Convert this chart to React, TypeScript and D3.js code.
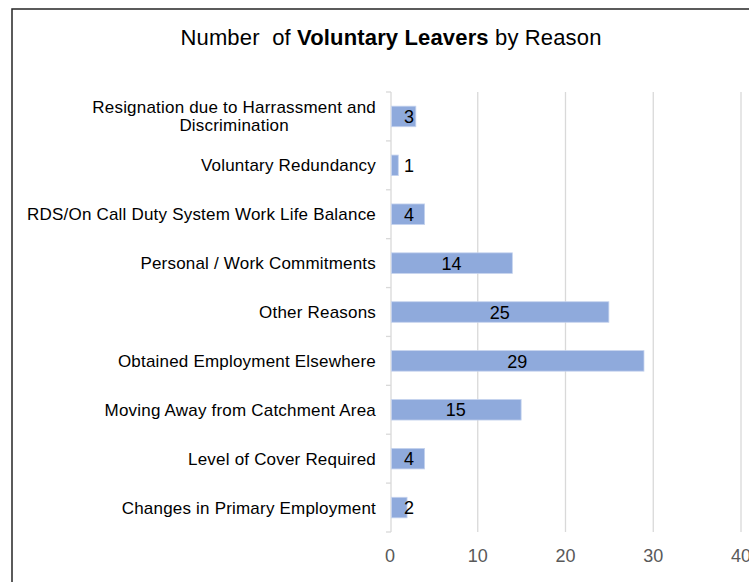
import React, { useEffect, useRef } from "react";
import * as d3 from "d3";

const categories: string[][] = [
  ["Resignation due to Harrassment and", "Discrimination"],
  ["Voluntary Redundancy"],
  ["RDS/On Call Duty System Work Life Balance"],
  ["Personal / Work Commitments"],
  ["Other Reasons"],
  ["Obtained Employment Elsewhere"],
  ["Moving Away from Catchment Area"],
  ["Level of Cover Required"],
  ["Changes in Primary Employment"],
];
const values: number[] = [3, 1, 4, 14, 25, 29, 15, 4, 2];
const xTicks: number[] = [0, 10, 20, 30, 40];

const W = 749;
const H = 582;
const FONT = "'Liberation Sans', Arial, sans-serif";

export default function App() {
  const ref = useRef<SVGSVGElement | null>(null);

  useEffect(() => {
    const svg = d3.select(ref.current);
    svg.selectAll("*").remove();

    const left = 390;
    const right = 741;
    const top = 92;
    const bottom = 532;

    const x = d3.scaleLinear().domain([0, 40]).range([left, right]);
    const idx = categories.map((_, i) => String(i));
    const y = d3.scaleBand<string>().domain(idx).range([top, bottom]).paddingInner(0.58).paddingOuter(0.29);
    const band = d3.scaleBand<string>().domain(idx).range([top, bottom]);

    // chart border
    svg.append("rect")
      .attr("x", 12).attr("y", 9)
      .attr("width", W + 20).attr("height", H + 20)
      .attr("fill", "white").attr("stroke", "#262626").attr("stroke-width", 1.5);

    // title
    const title = svg.append("text")
      .attr("x", 391).attr("y", 45)
      .attr("text-anchor", "middle")
      .attr("font-family", FONT).attr("font-size", 22)
      .attr("letter-spacing", 0.15)
      .attr("fill", "#000");
    title.append("tspan").text("Number  of ").style("white-space", "pre");
    title.append("tspan").text("Voluntary Leavers").attr("font-weight", "bold").style("white-space", "pre");
    title.append("tspan").text(" by Reason").style("white-space", "pre");

    // gridlines
    svg.append("g").selectAll("line")
      .data(xTicks.filter((t) => t > 0))
      .join("line")
      .attr("x1", (d) => x(d)).attr("x2", (d) => x(d))
      .attr("y1", top).attr("y2", bottom)
      .attr("stroke", "#d9d9d9").attr("stroke-width", 1.3);

    // x tick labels
    svg.append("g").selectAll("text")
      .data(xTicks)
      .join("text")
      .attr("x", (d) => x(d)).attr("y", 562)
      .attr("text-anchor", "middle")
      .attr("font-family", FONT).attr("font-size", 18)
      .attr("fill", "#595959")
      .text((d) => String(d));

    // y axis line and ticks
    svg.append("line")
      .attr("x1", x(0) + 1).attr("x2", x(0) + 1)
      .attr("y1", top).attr("y2", bottom)
      .attr("stroke", "#d9d9d9").attr("stroke-width", 1.3);
    const boundaries = idx.map((d) => band(d) as number).concat([bottom]);
    svg.append("g").selectAll("line")
      .data(boundaries)
      .join("line")
      .attr("x1", x(0) - 4).attr("x2", x(0) + 1)
      .attr("y1", (d) => d).attr("y2", (d) => d)
      .attr("stroke", "#d9d9d9").attr("stroke-width", 1.3);

    // bars
    svg.append("g").selectAll("rect")
      .data(values)
      .join("rect")
      .attr("x", x(0) + 1.5)
      .attr("y", (_, i) => y(String(i)) as number)
      .attr("width", (d) => Math.max(0, x(d) - x(0) - 2))
      .attr("height", y.bandwidth())
      .attr("fill", "#8faadc")
      .attr("stroke", "#c5d3ee").attr("stroke-width", 0.8);

    // data labels
    svg.append("g").selectAll("text")
      .data(values)
      .join("text")
      .attr("x", (d) => Math.max((x(0) + x(d)) / 2, x(0) + 19))
      .attr("y", (_, i) => (band(String(i)) as number) + band.bandwidth() / 2)
      .attr("dy", "0.37em")
      .attr("text-anchor", "middle")
      .attr("font-family", FONT).attr("font-size", 18)
      .attr("fill", "#000")
      .text((d) => String(d));

    // category labels
    const labelRight = 376;
    const lg = svg.append("g");
    categories.forEach((lines, i) => {
      const cy = (band(String(i)) as number) + band.bandwidth() / 2;
      const lineH = 18;
      const t = lg.append("text")
        .attr("font-family", FONT).attr("font-size", 17)
        .attr("letter-spacing", 0.2)
        .attr("fill", "#000")
        .attr("text-anchor", "middle");
      const tspans = lines.map((ln, j) =>
        t.append("tspan")
          .attr("y", cy + (j - (lines.length - 1) / 2) * lineH)
          .attr("dy", "0.35em")
          .text(ln)
      );
      let maxW = 0;
      tspans.forEach((ts) => {
        const node = ts.node() as SVGTSpanElement;
        maxW = Math.max(maxW, node.getComputedTextLength());
      });
      tspans.forEach((ts) => ts.attr("x", labelRight - maxW / 2));
    });
  }, []);

  return (
    <svg
      ref={ref}
      width={W}
      height={H}
      style={{ position: "absolute", left: 0, top: 0, display: "block", background: "white" }}
    />
  );
}
